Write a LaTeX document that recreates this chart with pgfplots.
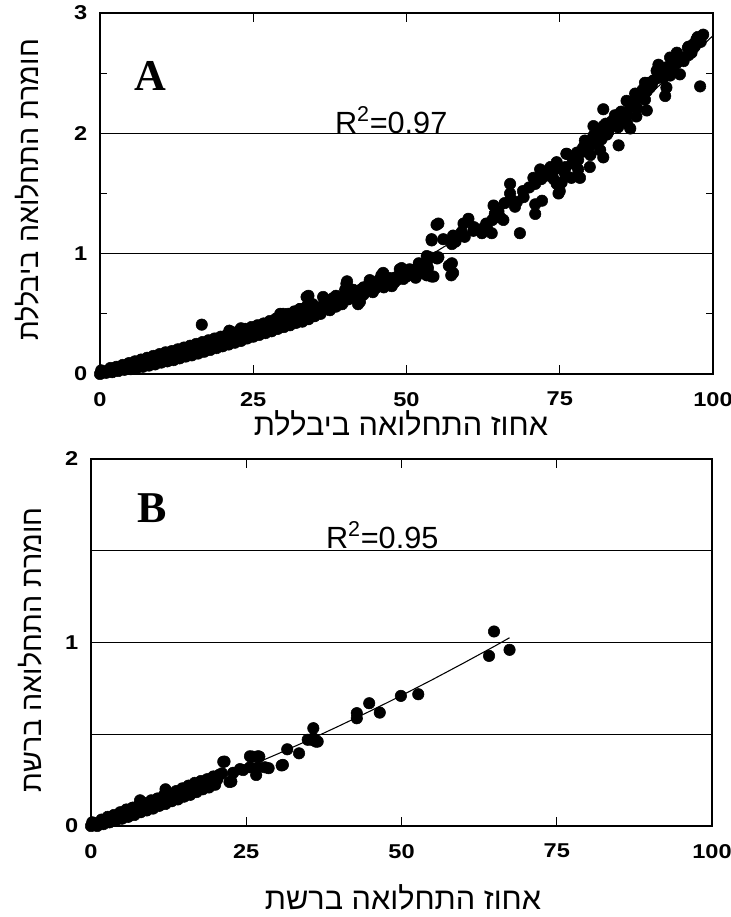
\documentclass[border=0pt]{standalone}
\usepackage{pgfplots}
\pgfplotsset{compat=1.18}
\usepackage{fontspec}
\setmainfont{Liberation Sans}
\newfontfamily\heb[Script=Hebrew]{Liberation Sans}
\newfontfamily\serifb{Liberation Serif}
\newfontfamily\tickf[FakeStretch=1.18]{Liberation Sans}
\TeXXeTstate=1
\pgfplotsset{
  common/.style={
    scale only axis, clip=false,
    axis line style={line width=1pt},
    tick align=inside,
    major tick length=6.75pt, minor tick length=5pt,
    tick style={black, line width=0.9pt},
    xmin=0, xmax=100,
    xtick={0,25,50,75,100},
    ymajorgrids,
    grid style={black, line width=0.9pt},
    /pgf/number format/assume math mode=true,
    ticklabel style={font=\tickf\fontsize{15}{15}\selectfont\bfseries},
    xticklabel style={yshift=-10pt},
    yticklabel style={xshift=-6pt},
  },
  dots/.style={only marks, mark=*, mark size=4.3pt, black},
  fit/.style={black, line width=0.8pt, no marks},
}
\begin{document}
\begin{tikzpicture}
\path[use as bounding box] (0,0) rectangle (548.25pt,687.75pt);
% ---------- Panel A ----------
\begin{axis}[common,
  at={(75pt,407.25pt)}, anchor=south west,
  width=459.75pt, height=270.75pt,
  ymin=0, ymax=3, ytick={0,1,2,3}, minor ytick={0.5,1.5,2.5},
]
\addplot[dots] coordinates {
(0,0.00)(0.3,0.01)(0.6,0.02)(0.2,0.03)
(1,0.01)(1.35,0.03)(1.7,0.05)
(2,0.015)(2.35,0.04)(2.7,0.06)
(3,0.025)(3.35,0.05)(3.7,0.075)
(4,0.035)(4.35,0.06)(4.7,0.09)
(5,0.04)(5.35,0.075)(5.7,0.105)
(6,0.05)(6.35,0.085)(6.7,0.12)
(7,0.06)(7.35,0.095)(7.7,0.135)
(8,0.07)(8.35,0.11)(8.7,0.15)
(9,0.08)(9.35,0.12)(9.7,0.165)
(10,0.095)(10.35,0.135)(10.7,0.18)
(11,0.105)(11.35,0.145)(11.7,0.19)
(12,0.115)(12.35,0.16)(12.7,0.205)
(13,0.13)(13.35,0.17)(13.7,0.22)
(14,0.145)(14.35,0.185)(14.7,0.235)
(15,0.155)(15.35,0.20)(15.7,0.25)
(16,0.17)(16.35,0.215)(16.7,0.265)
(17,0.185)(17.35,0.23)(17.7,0.28)
(18,0.20)(18.35,0.245)(18.7,0.295)
(19,0.215)(19.35,0.26)(19.7,0.31)
(20,0.23)(20.35,0.275)(20.7,0.325)
(21,0.245)(21.35,0.29)(21.7,0.345)
(22,0.26)(22.35,0.31)(22.7,0.36)
(23,0.275)(23.35,0.325)(23.7,0.375)
(24,0.295)(24.35,0.34)(24.7,0.39)
(25,0.31)(25.35,0.355)(25.7,0.405)
(26,0.325)(26.35,0.375)(26.7,0.42)
(27,0.34)(27.35,0.39)(27.7,0.44)
(28,0.355)(28.35,0.41)(28.7,0.46)
(29,0.375)(29.35,0.43)(29.7,0.48)
(30,0.39)(30.35,0.45)(30.7,0.50)
(31,0.405)(31.35,0.46)(31.7,0.52)
(32,0.425)(32.35,0.48)(32.7,0.54)
(33,0.435)(33.35,0.50)(33.7,0.56)
(34,0.455)(34.35,0.52)(34.7,0.58)
(35,0.48)(35.5,0.54)(36,0.50)(36.5,0.58)(37.5,0.53)(38,0.60)(38.5,0.56)(39,0.62)
(39.5,0.58)(40,0.66)(40.5,0.62)(41,0.68)(42,0.64)(42.5,0.70)(43,0.66)(43.5,0.72)
(44.5,0.68)(45,0.73)(46,0.75)(47,0.77)(48,0.80)(49,0.82)(50,0.84)(51,0.86)
(16.6,0.41)(21.1,0.36)(23.0,0.38)(27.6,0.43)(29.9,0.50)(33.7,0.64)(36.4,0.64)
(40.2,0.75)(42.1,0.58)(44.0,0.76)(45.9,0.82)(48.9,0.87)(51.2,0.85)
(34.0,0.65)(40.3,0.77)(41.3,0.70)(39.7,0.61)(42.4,0.60)(44.0,0.78)(44.9,0.71)
(46.2,0.84)(46.3,0.72)(47.6,0.73)(49.2,0.88)(50.0,0.81)(52.2,0.88)(53.3,0.82)
(54.1,0.81)(53.3,0.98)(54.1,1.11)(54.9,1.24)(54.9,0.97)(37.0,0.57)(34.8,0.56)
(32.6,0.54)(31.5,0.50)(29.4,0.50)(38.0,0.63)(45.1,0.75)(48.4,0.78)(51.1,0.83)
(55.0,0.96)(56.9,0.90)(57.3,0.82)
(36,0.55)(37,0.60)(38.5,0.65)(40,0.70)(41.5,0.66)(43,0.72)(44,0.70)(45.5,0.78)
(47,0.80)(48,0.76)(49.5,0.79)(50.5,0.87)(51.5,0.80)(52.5,0.84)(53.5,0.88)(52,0.92)
(53.3,0.92)(52.7,0.86)(54.4,0.81)(53.8,0.97)(55.2,0.97)(57.4,0.92)(57.6,0.84)
(55.2,1.25)(54.1,1.12)(56.0,1.12)(57.4,1.08)(57.6,1.15)(59.3,1.25)(60.1,1.29)
(60.9,1.19)(59.5,1.14)(62.3,1.17)(63.9,1.17)(64.2,1.40)(64.4,1.33)(65.8,1.28)
(66.9,1.58)(66.9,1.50)(67.7,1.39)(68.5,1.17)(69.1,1.47)(70.7,1.63)(71.8,1.70)
(71.0,1.33)(71.0,1.41)(72.1,1.44)(65.3,1.30)(63.1,1.22)(74.5,1.58)(74.8,1.50)
(74.0,1.69)(74.5,1.76)(75.6,1.69)(76.1,1.83)(76.9,1.63)(77.5,1.76)(77.8,1.84)
(75.3,1.59)(75.0,1.52)
(58,1.10)(59,1.18)(61,1.22)(62,1.20)(63,1.25)(64,1.28)(65,1.35)(66,1.42)
(67,1.45)(68,1.43)(69,1.52)(70,1.55)(71,1.58)(72,1.62)(73,1.65)(73.5,1.72)
(74,1.62)(76,1.72)(77,1.80)(78,1.78)(79,1.85)(80,1.90)(80.5,1.98)(81,1.93)
(81.5,2.02)(82.5,2.08)(83,2.04)(84,2.12)(85,2.18)(86,2.15)(86.5,2.22)(87,2.26)
(88,2.30)(88.5,2.36)(89.5,2.42)(90,2.40)(91,2.46)(91.5,2.50)(92.5,2.55)(93,2.48)
(94,2.58)(95,2.63)(96,2.65)(96,2.72)(97,2.72)(97.5,2.80)(98,2.76)(84.5,2.05)
(86,2.08)(87.5,2.14)(80,1.82)(78,1.70)
(98.4,2.82)(97.3,2.78)(96.8,2.74)(96.5,2.67)(97.9,2.39)(94.1,2.67)(93.0,2.63)
(95.2,2.60)(94.6,2.49)(91.1,2.57)(91.9,2.46)(90.3,2.44)(89.7,2.38)(92.4,2.38)
(92.2,2.31)(89.2,2.35)(88.9,2.28)(87.3,2.33)(85.9,2.27)(87.6,2.21)(89.2,2.19)
(82.1,2.20)(84.0,2.15)(83.5,2.10)(85.1,2.12)(80.5,2.06)(82.1,2.06)(86.5,2.04)
(82.7,1.99)(81.8,1.95)(84.6,1.90)(79.1,1.94)(78.8,1.88)(81.6,1.86)(82.1,1.80)
(76.1,1.83)(77.2,1.75)(79.9,1.72)(75.9,1.66)(78.3,1.63)(88.9,2.42)(90.8,2.52)
(93.5,2.52)(95.9,2.71)(82.9,2.01)
};
\addplot[fit] coordinates {
(0,0)(5,0.0399)(10,0.0904)(15,0.1515)(20,0.2232)(25,0.3055)(30,0.3984)
(35,0.5019)(40,0.616)(45,0.7407)(50,0.876)(55,1.0219)(60,1.1784)(65,1.3455)
(70,1.5232)(75,1.7115)(80,1.9104)(85,2.1199)(90,2.34)(95,2.5707)(100,2.812)
};
\node[font=\serifb\fontsize{33}{33}\selectfont\bfseries] at (axis cs:8.2,2.48) {A};
\node[font=\fontsize{23}{23}\selectfont] at (axis cs:47.5,2.11) {R\textsuperscript{2}=0.97};
\end{axis}
% ---------- Panel B ----------
\begin{axis}[common,
  at={(68.25pt,68.25pt)}, anchor=south west,
  width=465.75pt, height=275.25pt,
  ymin=0, ymax=2, ytick={0,0.5,1,1.5,2}, yticklabels={0,,1,,2},
]
\addplot[dots] coordinates {
(0,0)(0.3,0.005)(0.6,0.015)(0.2,0.02)
(1,0.0)(1.35,0.015)(1.7,0.035)
(2,0.01)(2.35,0.03)(2.7,0.05)
(3,0.02)(3.35,0.04)(3.7,0.06)
(4,0.03)(4.35,0.05)(4.7,0.075)
(5,0.04)(5.35,0.065)(5.7,0.09)
(6,0.05)(6.35,0.075)(6.7,0.10)
(7,0.06)(7.35,0.09)(7.7,0.115)
(8,0.075)(8.35,0.10)(8.7,0.125)
(9,0.085)(9.35,0.11)(9.7,0.14)
(10,0.095)(10.35,0.125)(10.7,0.15)
(11,0.11)(11.35,0.135)(11.7,0.165)
(12,0.12)(12.35,0.15)(12.7,0.175)
(13,0.135)(13.35,0.16)(13.7,0.19)
(14,0.145)(14.35,0.175)(14.7,0.205)
(15,0.16)(15.35,0.19)(15.7,0.22)
(16,0.17)(16.35,0.20)(16.7,0.235)
(17,0.185)(17.35,0.215)(17.7,0.245)
(18,0.20)(18.35,0.23)(18.7,0.255)
(19,0.21)(19.35,0.24)(19.7,0.27)
(20,0.225)(20.35,0.255)(20.7,0.28)
(12.0,0.20)(17.8,0.24)(7.9,0.14)(21.3,0.35)
(64.9,1.06)(64.1,0.927)(67.4,0.96)(49.9,0.709)(52.7,0.718)(44.8,0.669)
(46.5,0.618)(42.8,0.615)(42.8,0.587)(35.8,0.533)(35.8,0.478)(36.5,0.46)
(31.6,0.418)(33.5,0.396)(30.9,0.333)(21.5,0.351)(26.0,0.378)(27.1,0.378)
(26.6,0.278)(28.6,0.315)(21.1,0.287)(22.6,0.242)(24.5,0.305)
(35.5,0.47)(36.2,0.46)(34.9,0.47)(30.7,0.33)(26.9,0.38)(25.6,0.38)(26.9,0.32)
(28.0,0.32)(25.6,0.32)(24.0,0.31)(22.9,0.29)(22.3,0.24)
};
\addplot[fit] coordinates {
(0,0)(5,0.0582)(10,0.1192)(15,0.183)(20,0.25)(25,0.3195)(30,0.392)(35,0.467)
(40,0.546)(45,0.627)(50,0.711)(55,0.798)(60,0.888)(65,0.980)(67.4,1.026)
};
\node[font=\serifb\fontsize{33}{33}\selectfont\bfseries] at (axis cs:9.8,1.73) {B};
\node[font=\fontsize{23}{23}\selectfont] at (axis cs:46.9,1.586) {R\textsuperscript{2}=0.95};
\end{axis}
% ---------- axis titles ----------
\node[font=\heb\fontsize{23}{23}\selectfont] at (300.75pt,370.5pt) {\beginR אחוז התחלואה ביבללת\endR};
\node[font=\heb\fontsize{21.5}{21.5}\selectfont, rotate=90] at (20.25pt,545.25pt) {\beginR חומרת התחלואה ביבללת\endR};
\node[font=\heb\fontsize{23}{23}\selectfont] at (302.25pt,15pt) {\beginR אחוז התחלואה ברשת\endR};
\node[font=\heb\fontsize{21.5}{21.5}\selectfont, rotate=90] at (22.5pt,200.25pt) {\beginR חומרת התחלואה ברשת\endR};
\end{tikzpicture}
\end{document}
